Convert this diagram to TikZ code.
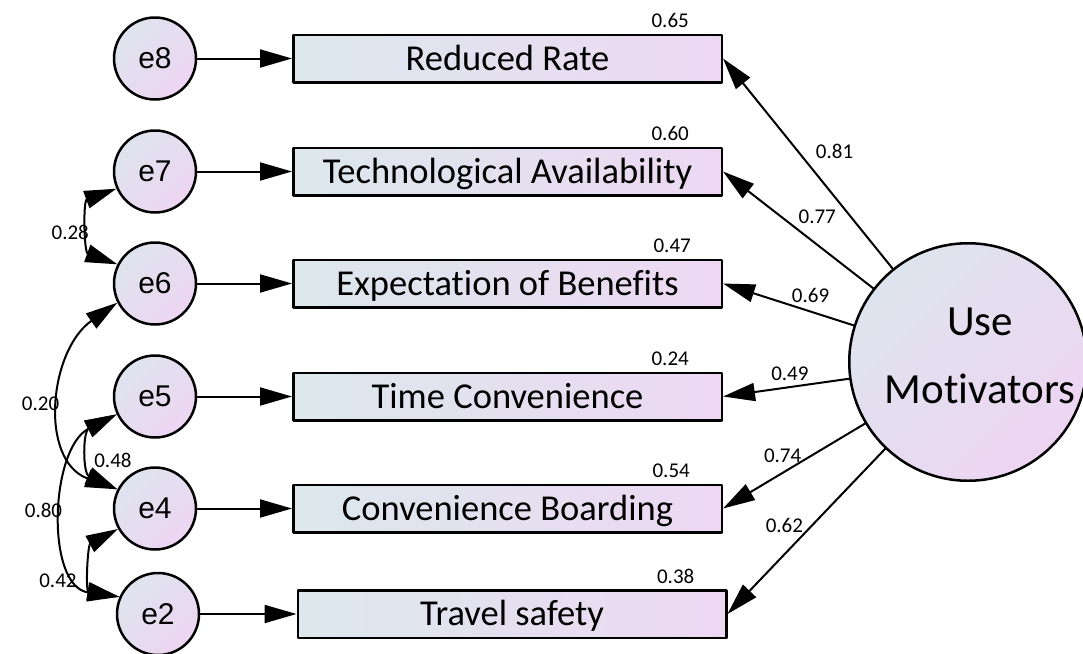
\documentclass[tikz,border=0pt]{standalone}
\usepackage{fontspec}
\setmainfont{Carlito}[Ligatures=NoCommon]
\newfontfamily\efont{Liberation Sans}
\usetikzlibrary{arrows.meta,positioning}
\definecolor{boxleft}{RGB}{220,232,236}
\definecolor{boxright}{RGB}{237,216,243}
\definecolor{circtop}{RGB}{222,228,238}
\definecolor{circbot}{RGB}{237,213,242}

\begin{document}
\begin{tikzpicture}[>={Triangle[length=32pt,width=18pt]}, line cap=round, line join=round, x=1pt, y=1pt,
  indicator/.style={draw, line width=2.5pt, minimum width=428.5pt, minimum height=47.5pt, inner sep=0pt,
    left color=boxleft, right color=boxright, text height=25pt, text depth=1.5pt,
    font=\fontsize{36.5}{40}\selectfont},
  errvar/.style={circle, draw, line width=2.5pt, minimum size=82pt, inner sep=0pt,
    left color=circtop, right color=circbot, shading angle=45, font=\efont\fontsize{30}{32}\selectfont},
  factor/.style={circle, draw, line width=2.5pt, minimum size=237.5pt, inner sep=0pt,
    left color=circtop, right color=circbot, shading angle=45},
  regpath/.style={->, line width=2pt},
  covpath/.style={<->, line width=2pt},
  coef/.style={font=\fontsize{21}{24}\selectfont, inner sep=2pt}]

% --- Parameters (pt) ---
\def\xe{155}     % error circles
\def\xbox{507.5} % indicator boxes
\useasboundingbox (0,0) rectangle (1083,-653);

% --- Indicators ---
\node[indicator] (rr) at (\xbox,-58.5) {Reduced Rate};
\node[indicator] (ta) at (\xbox,-171.5) {Technological Availability};
\node[indicator] (eb) at (\xbox,-283.5) {Expectation of Benefits};
\node[indicator] (tc) at (\xbox,-396.5) {Time Convenience};
\node[indicator] (cb) at (\xbox,-508.5) {Convenience Boarding};
\node[indicator] (ts) at (512,-614) {Travel safety};

% --- Error terms ---
\node[errvar] (e8) at (\xe,-58.5) {e8};
\node[errvar] (e7) at (\xe,-171.5) {e7};
\node[errvar] (e6) at (\xe,-283.5) {e6};
\node[errvar] (e5) at (\xe,-396.5) {e5};
\node[errvar] (e4) at (\xe,-508.5) {e4};
\node[errvar] (e2) at (158,-614) {e2};

% --- Latent factor ---
\node[factor, label={[align=center, font=\fontsize{43}{68}\selectfont, xshift=12pt, yshift=6pt]center:{Use\\Motivators}}]
  (um) at (968,-362) {};

% --- Errors into indicators ---
\draw[regpath] (e8) -- (rr);
\draw[regpath] (e7) -- (ta);
\draw[regpath] (e6) -- (eb);
\draw[regpath] (e5) -- (tc);
\draw[regpath] (e4) -- (cb);
\draw[regpath] (e2) -- (ts);

% --- Loadings ---
\draw[regpath] (um) -- (rr.east) node[coef, pos=.47, above right=8pt and 0pt] {0.81};
\draw[regpath] (um) -- (ta.east) node[coef, pos=.47, above right=7pt and -7pt] {0.77};
\draw[regpath] (um) -- (eb.east) node[coef, pos=.33, above=6pt] {0.69};
\draw[regpath] (um) -- (tc.east) node[coef, pos=.47, above=3pt] {0.49};
\draw[regpath] (um) -- (cb.east) node[coef, pos=.58, above=7pt] {0.74};
\draw[regpath] (um) -- (ts.east) node[coef, pos=.54, above left=2pt and -6pt] {0.62};

% --- Squared multiple correlations ---
\node[coef, anchor=south east] (r2rr) at ([xshift=-32pt, yshift=3.5pt]rr.north east) {0.65};
\node[coef, anchor=south east] (r2ta) at ([xshift=-32pt, yshift=3.5pt]ta.north east) {0.60};
\node[coef, anchor=south east] (r2eb) at ([xshift=-30pt, yshift=3.5pt]eb.north east) {0.47};
\node[coef, anchor=south east] (r2tc) at ([xshift=-32pt, yshift=3.5pt]tc.north east) {0.24};
\node[coef, anchor=south east] (r2cb) at ([xshift=-31pt, yshift=3.5pt]cb.north east) {0.54};
\node[coef, anchor=south east] (r2ts) at ([xshift=-31pt, yshift=3.5pt]ts.north east) {0.38};

% --- Error covariances ---
\draw[covpath] (e7.204) to[out=200, in=160, looseness=1.2] node[coef, left, yshift=-6pt] {0.28} (e6.153);
\draw[covpath] (e6.207) to[out=215, in=160, looseness=1.15] node[coef, left] {0.20} (e4.153);
\draw[covpath] (e5.205) to[out=207, in=172, looseness=1.05] node[coef, left, yshift=4pt] {0.80} (e2.156);
\draw[covpath] (e5.205) to[out=207, in=155, looseness=1.3] node[coef, right, yshift=-8pt] {0.48} (e4.153);
\draw[covpath] (e4.209) to[out=208, in=170, looseness=1.3] node[coef, below left=4pt and 15pt] {0.42} (e2.156);

\end{tikzpicture}
\end{document}
